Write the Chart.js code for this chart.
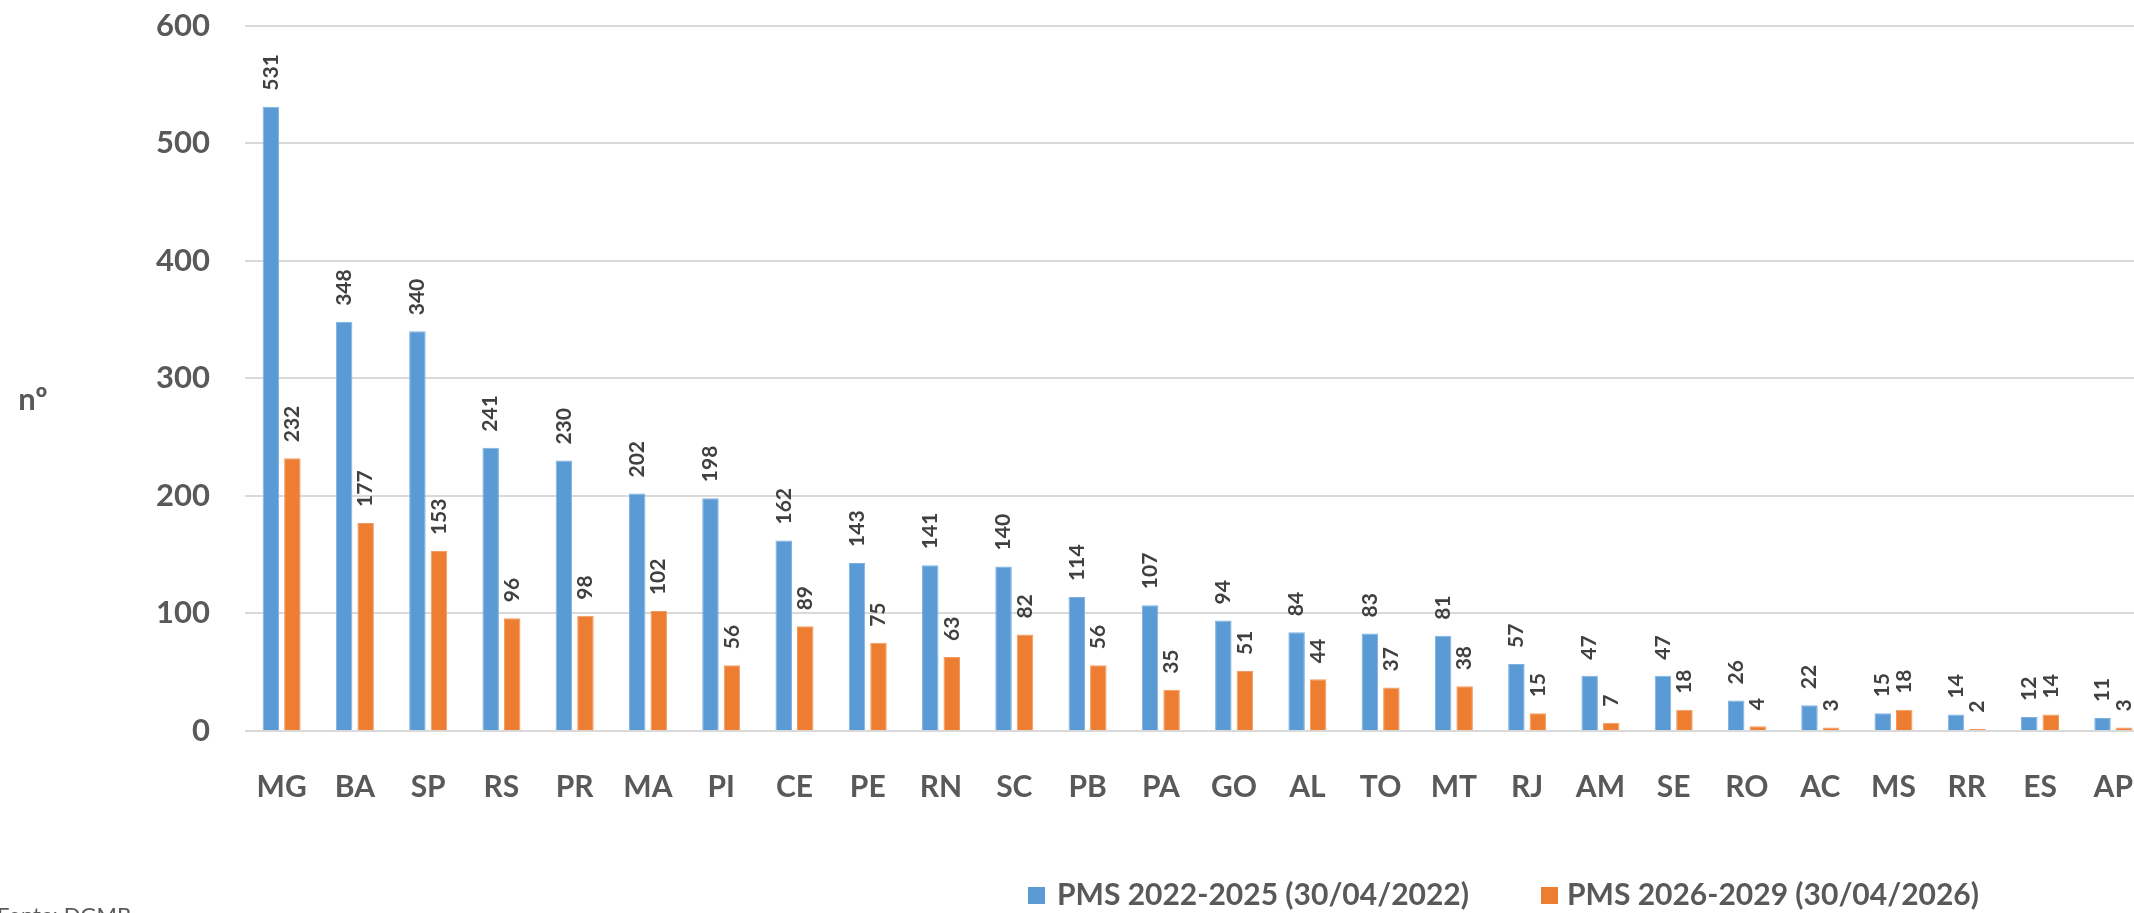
<!DOCTYPE html>
<html>
<head>
<meta charset="utf-8">
<script src="https://cdn.jsdelivr.net/npm/chart.js@4"></script>
<style>
  html, body { margin: 0; padding: 0; background: #fff; overflow: hidden; width: 2134px; height: 913px; }
  #wrap { position: absolute; left: 0; top: 0; width: 2163px; height: 913px; }
</style>
</head>
<body>
<div id="wrap"><canvas id="c" width="2163" height="913"></canvas></div>
<script>
const categories = ['MG','BA','SP','RS','PR','MA','PI','CE','PE','RN','SC','PB','PA','GO','AL','TO','MT','RJ','AM','SE','RO','AC','MS','RR','ES','AP'];
const pms2022 = [531,348,340,241,230,202,198,162,143,141,140,114,107,94,84,83,81,57,47,47,26,22,15,14,12,11];
const pms2026 = [232,177,153,96,98,102,56,89,75,63,82,56,35,51,44,37,38,15,7,18,4,3,18,2,14,3];
const seriesNames = ['PMS 2022-2025 (30/04/2022)', 'PMS 2026-2029 (30/04/2026)'];
const seriesColors = ['#5B9BD5', '#ED7D31'];
const yTicks = [0,100,200,300,400,500,600];
const yAxisLabel = 'nº';
const sourceNote = 'Fonte: DGMB';

const FONT = 'Lato';
const GREY = '#595959';

const dataLabels = {
  id: 'dataLabels',
  afterDatasetsDraw(chart) {
    const ctx = chart.ctx;
    ctx.save();
    ctx.font = `bold 21px ${FONT}`;
    ctx.fillStyle = '#404040';
    chart.data.datasets.forEach((ds, di) => {
      const meta = chart.getDatasetMeta(di);
      meta.data.forEach((el, i) => {
        ctx.save();
        ctx.translate(el.x, el.y - 16);
        ctx.rotate(-Math.PI / 2);
        ctx.textAlign = 'left';
        ctx.textBaseline = 'middle';
        ctx.fillText(String(ds.data[i]), 0, 0);
        ctx.restore();
      });
    });
    ctx.restore();
  }
};

const extras = {
  id: 'extras',
  afterDraw(chart) {
    const ctx = chart.ctx;
    ctx.save();
    ctx.fillStyle = GREY;
    ctx.font = `bold 31px ${FONT}`;
    ctx.textAlign = 'center';
    ctx.textBaseline = 'middle';
    ctx.fillText(yAxisLabel, 33, 400);
    // legend
    const boxX = [1028, 1541];
    const textX = [1057, 1567];
    ctx.font = `bold 30px ${FONT}`;
    ctx.textAlign = 'left';
    ctx.textBaseline = 'middle';
    chart.data.datasets.forEach((ds, i) => {
      ctx.fillStyle = ds.backgroundColor;
      ctx.fillRect(boxX[i], 887, 17, 17);
      ctx.fillStyle = GREY;
      ctx.fillText(ds.label, textX[i], 895);
    });
    ctx.font = `22px ${FONT}`;
    ctx.textBaseline = 'top';
    ctx.fillStyle = GREY;
    ctx.fillText(sourceNote, -3, 905);
    ctx.restore();
  }
};

new Chart(document.getElementById('c'), {
  type: 'bar',
  data: {
    labels: categories,
    datasets: [
      { label: seriesNames[0], data: pms2022, backgroundColor: seriesColors[0], borderColor: '#7fb1e0', borderWidth: 1 },
      { label: seriesNames[1], data: pms2026, backgroundColor: seriesColors[1], borderColor: '#f39a5e', borderWidth: 1 }
    ]
  },
  options: {
    responsive: false,
    animation: false,
    devicePixelRatio: 1,
    layout: { padding: { top: 0, right: 1, left: 0, bottom: 0 } },
    datasets: { bar: { categoryPercentage: 0.587, barPercentage: 0.767 } },
    plugins: {
      legend: { display: false },
      tooltip: { enabled: false }
    },
    scales: {
      x: {
        grid: { display: false },
        border: { display: false },
        ticks: {
          font: { family: FONT, size: 30, weight: 'bold' },
          color: GREY,
          padding: 30,
          maxRotation: 0,
          autoSkip: false
        },
        afterFit(s) { s.height = 182; }
      },
      y: {
        min: 0,
        max: 600,
        afterBuildTicks(s) { s.ticks = yTicks.map(v => ({ value: v })); },
        grid: { color: '#d9d9d9', lineWidth: 2, drawTicks: true, tickLength: 28, tickColor: 'rgba(0,0,0,0)' },
        border: { display: false },
        ticks: {
          font: { family: FONT, size: 31, weight: 'bold' },
          color: GREY,
          padding: 7
        },
        afterFit(s) { s.width = 245; }
      }
    }
  },
  plugins: [dataLabels, extras]
});
</script>
</body>
</html>
